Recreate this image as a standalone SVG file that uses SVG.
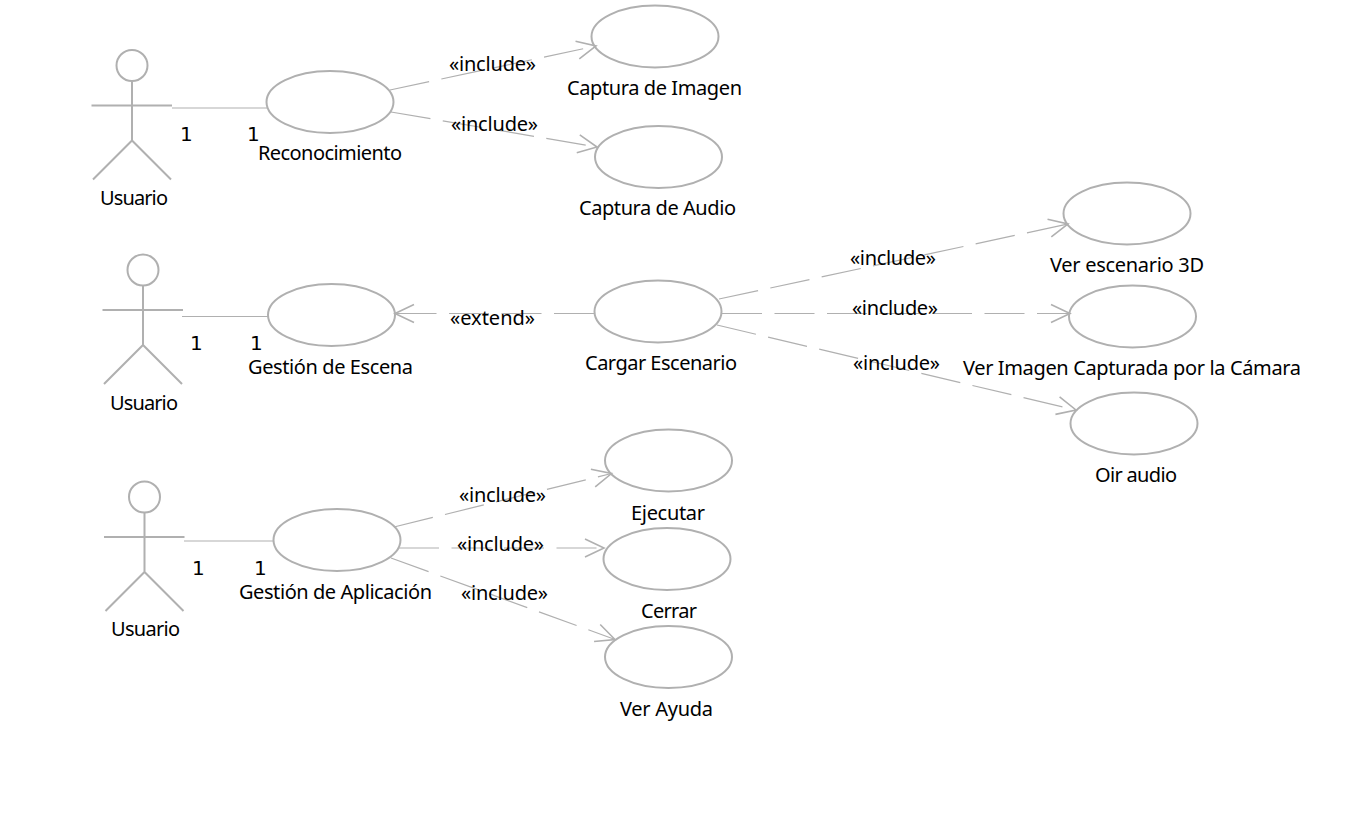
<svg xmlns="http://www.w3.org/2000/svg" width="1366" height="820" viewBox="0 0 1366 820">
<style>
text{font-family:"Noto Sans","DejaVu Sans",sans-serif;font-size:20px;fill:#000;text-anchor:start}
text.n{font-family:"DejaVu Sans","Noto Sans",sans-serif}
.uc{fill:none;stroke:#b0b0b0;stroke-width:2}
.act{fill:none;stroke:#b0b0b0;stroke-width:2}
.a{fill:none;stroke:#b0b0b0;stroke-width:1.2}
.d{stroke-dasharray:40 12.5;marker-end:url(#open)}
</style>
<defs>
<marker id="open" markerUnits="userSpaceOnUse" markerWidth="24" markerHeight="24" refX="20" refY="10" orient="auto" viewBox="0 0 24 20">
<path d="M1 1L20 10L1 19" fill="none" stroke="#b0b0b0" stroke-width="1.6"/>
</marker>
<g id="stick"><circle cx="0" cy="16" r="15.5" class="act"/><path d="M0 32V91M-40.500 56H40M-39 130L0 91L39 130" class="act"/></g>
</defs>
<rect width="1366" height="820" fill="#fff"/>
<g id="connectors">
<path class="a" d="M172 108H267"/><path class="a" d="M182 316.500H268"/><path class="a" d="M184 541H273"/>
<path class="a d" d="M390 90L596 46"/>
<path class="a d" d="M391 112L597 147"/>
<path class="a d" d="M719 299L1068 224"/>
<path class="a d" d="M722 313.500L1070 313.500"/>
<path class="a d" d="M717 325L1076 410"/>
<path class="a d" d="M594 313.500L395 313.500"/>
<path class="a d" d="M394 527L611.500 473.500"/>
<path class="a d" d="M399 548L604 548"/>
<path class="a d" d="M391 558L615 639.500"/>
</g>
<g id="actor1"><use href="#stick" x="132" y="49.500"/><text x="100" y="204.500" textLength="68">Usuario</text></g>
<g id="actor2"><use href="#stick" x="143" y="254"/><text x="110" y="409.500" textLength="68">Usuario</text></g>
<g id="actor3"><use href="#stick" x="144.500" y="481"/><text x="111" y="635.500" textLength="69">Usuario</text></g>
<g id="reconocimiento"><ellipse class="uc" cx="330" cy="102" rx="63.500" ry="31"/><text x="258" y="159.500" textLength="144">Reconocimiento</text></g>
<g id="captura-imagen"><ellipse class="uc" cx="655" cy="36.500" rx="63.500" ry="31"/><text x="567" y="94.500" textLength="175">Captura de Imagen</text></g>
<g id="captura-audio"><ellipse class="uc" cx="658.500" cy="157" rx="63.500" ry="31"/><text x="579" y="214.500" textLength="157">Captura de Audio</text></g>
<g id="gestion-escena"><ellipse class="uc" cx="331.500" cy="315" rx="63.500" ry="31"/><text x="248" y="373.500" textLength="165">Gestión de Escena</text></g>
<g id="cargar-escenario"><ellipse class="uc" cx="658" cy="311.500" rx="63.500" ry="31"/><text x="585" y="369.500" textLength="152">Cargar Escenario</text></g>
<g id="ver-escenario"><ellipse class="uc" cx="1127" cy="213.500" rx="63.500" ry="31"/><text x="1050" y="271.500" textLength="154">Ver escenario 3D</text></g>
<g id="ver-imagen"><ellipse class="uc" cx="1132.500" cy="316.500" rx="63.500" ry="31"/><text x="963" y="374.500" textLength="338">Ver Imagen Capturada por la Cámara</text></g>
<g id="oir-audio"><ellipse class="uc" cx="1134" cy="423.500" rx="63.500" ry="31"/><text x="1095" y="481.500" textLength="82">Oir audio</text></g>
<g id="gestion-aplicacion"><ellipse class="uc" cx="337" cy="540" rx="63.500" ry="31"/><text x="239" y="598.500" textLength="193">Gestión de Aplicación</text></g>
<g id="ejecutar"><ellipse class="uc" cx="668.500" cy="460.500" rx="63.500" ry="31"/><text x="631" y="519.500" textLength="74">Ejecutar</text></g>
<g id="cerrar"><ellipse class="uc" cx="667" cy="559" rx="63.500" ry="31"/><text x="641" y="617.500" textLength="56">Cerrar</text></g>
<g id="ver-ayuda"><ellipse class="uc" cx="668.500" cy="657" rx="63.500" ry="31"/><text x="620" y="715.500" textLength="93">Ver Ayuda</text></g>
<g id="labels">
<text class="n" x="180" y="140.500">1</text><text class="n" x="247" y="140.500">1</text>
<text class="n" x="190" y="349.500">1</text><text class="n" x="250" y="349.500">1</text>
<text class="n" x="192" y="574.500">1</text><text class="n" x="254" y="574.500">1</text>
<text x="449" y="70.500" textLength="87">«include»</text>
<text x="451" y="130.500" textLength="87">«include»</text>
<text x="850" y="264.500" textLength="86">«include»</text>
<text x="852" y="314.500" textLength="86">«include»</text>
<text x="853" y="369.500" textLength="87">«include»</text>
<text x="450" y="324.500" textLength="85">«extend»</text>
<text x="459" y="501.500" textLength="87">«include»</text>
<text x="457" y="550.500" textLength="87">«include»</text>
<text x="461" y="599.500" textLength="87">«include»</text>
</g>
</svg>
